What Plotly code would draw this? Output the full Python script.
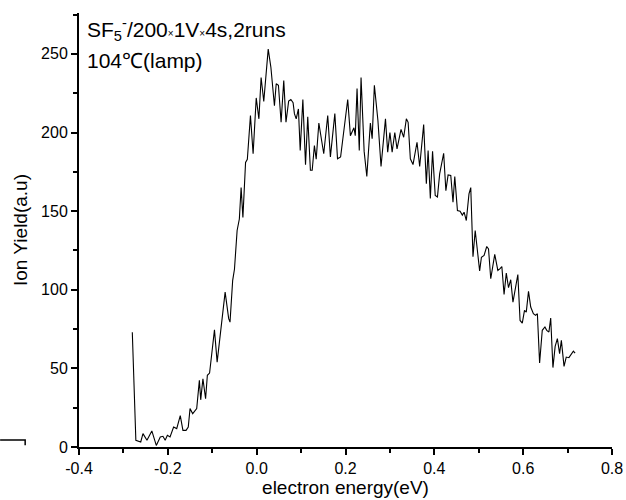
import plotly.graph_objects as go

# electron energy (eV)
energy = [
    -0.280, -0.272, -0.261, -0.256, -0.247, -0.236, -0.226, -0.217, -0.211, -0.206,
    -0.201, -0.195, -0.187, -0.180, -0.172, -0.166, -0.159, -0.154, -0.150, -0.144,
    -0.135, -0.129, -0.126, -0.121, -0.115, -0.111, -0.106, -0.095, -0.089, -0.071,
    -0.063, -0.060, -0.054, -0.050, -0.044, -0.039, -0.035, -0.031, -0.025, -0.021,
    -0.014, -0.008, -0.001, 0.005, 0.010, 0.016, 0.026, 0.032, 0.040, 0.044,
    0.049, 0.055, 0.061, 0.066, 0.072, 0.077, 0.082, 0.085, 0.089, 0.094,
    0.098, 0.104, 0.110, 0.115, 0.121, 0.125, 0.130, 0.134, 0.140, 0.151,
    0.160, 0.166, 0.176, 0.182, 0.189, 0.198, 0.205, 0.211, 0.219, 0.222,
    0.226, 0.231, 0.235, 0.242, 0.248, 0.256, 0.260, 0.265, 0.273, 0.280,
    0.290, 0.295, 0.300, 0.305, 0.311, 0.316, 0.325, 0.331, 0.337, 0.341,
    0.346, 0.352, 0.361, 0.367, 0.376, 0.382, 0.386, 0.391, 0.396, 0.402,
    0.407, 0.412, 0.421, 0.426, 0.431, 0.437, 0.442, 0.446, 0.452, 0.458,
    0.463, 0.467, 0.472, 0.478, 0.482, 0.487, 0.492, 0.502, 0.506, 0.512,
    0.518, 0.522, 0.527, 0.536, 0.543, 0.548, 0.552, 0.557, 0.562, 0.567,
    0.572, 0.577, 0.588, 0.593, 0.598, 0.603, 0.607, 0.612, 0.617, 0.623,
    0.628, 0.632, 0.637, 0.643, 0.649, 0.653, 0.658, 0.662, 0.667, 0.672,
    0.677, 0.682, 0.686, 0.692, 0.697, 0.703, 0.713, 0.717,
]

# ion yield (a.u)
ion_yield = [
    73, 4.3, 3.2, 8.5, 4.3, 10.2, 1, 6.4, 6.8, 4.3,
    7.4, 6.4, 12.7, 11.7, 20, 10.6, 10.6, 12.7, 24.4, 21.2,
    24.4, 42.4, 30, 43.4, 30.7, 45.6, 47, 74.5, 54, 98.5,
    81.6, 79.4, 106, 113, 137.7, 145, 165, 146, 181, 183,
    210.8, 186.5, 222, 208.7, 235, 219.7, 253, 241.5, 217, 231,
    230, 206.5, 233, 206.5, 220, 221, 219, 212, 208.7, 215,
    188.5, 221, 179.5, 210, 176, 176, 191.7, 183, 206, 186.5,
    210.8, 184.5, 212, 183.3, 184.5, 205, 221, 198, 203, 198,
    228, 188.5, 235, 188, 172, 206, 196, 230, 207.6, 178.4,
    208.7, 187.5, 200, 187.5, 200, 189.6, 202, 197, 208.7, 206.5,
    183.3, 179.6, 193.8, 178.4, 205, 167.4, 188.5, 158, 188, 160,
    159, 173.7, 186.8, 163, 173, 172.7, 155.7, 172, 150.4, 150,
    147.5, 149.3, 144, 161, 165, 121, 137.7, 112, 120.7, 121.8,
    127.5, 126, 107, 122.5, 112.3, 113.4, 114.8, 97, 110.6, 101.3,
    106.4, 92.1, 109.7, 80.5, 78.8, 86.9, 85.8, 99, 89, 84.8,
    83.7, 84.8, 53.4, 74.2, 76.3, 74.2, 73.1, 82, 50.5, 64,
    68.9, 59.4, 67.8, 51.3, 57.2, 56.8, 61, 59.7,
]

x_tick_vals = [-0.4, -0.2, 0.0, 0.2, 0.4, 0.6, 0.8]
x_tick_text = ["-0.4", "-0.2", "0.0", "0.2", "0.4", "0.6", "0.8"]
y_tick_vals = [0, 50, 100, 150, 200, 250]

FONT = "Liberation Sans, Arial, sans-serif"

fig = go.Figure()
fig.add_trace(go.Scatter(
    x=energy, y=ion_yield, mode="lines",
    line=dict(color="black", width=1.1),
    showlegend=False, hoverinfo="skip",
))

axis_common = dict(
    showline=True, linecolor="black", linewidth=2,
    ticks="outside", ticklen=6, tickwidth=1.5, tickcolor="black",
    showgrid=False, zeroline=False, mirror=False,
    tickfont=dict(family=FONT, size=16, color="black"),
)

fig.update_xaxes(
    range=[-0.4, 0.8], tickvals=x_tick_vals, ticktext=x_tick_text,
    minor=dict(ticks="outside", ticklen=4, tickwidth=1.5, tickcolor="black", dtick=0.1),
    title=dict(text="electron energy(eV)", font=dict(family=FONT, size=19, color="black"), standoff=4),
    **axis_common,
)
fig.update_yaxes(
    range=[0, 276], tickvals=y_tick_vals,
    minor=dict(ticks="outside", ticklen=4, tickwidth=1.5, tickcolor="black", dtick=25, tick0=0),
    title=dict(text="Ion Yield(a.u)", font=dict(family=FONT, size=19, color="black"), standoff=8),
    **axis_common,
)

small = '<span style="font-size:10px">×</span>'
fig.add_annotation(
    xref="paper", yref="paper", x=0.011, y=0.962, xanchor="left", yanchor="middle",
    text="SF<sub>5</sub><sup>-</sup>/200" + small + "1V" + small + "4s,2runs",
    showarrow=False, font=dict(family=FONT, size=21, color="black"),
)
fig.add_annotation(
    xref="paper", yref="paper", x=0.011, y=0.89, xanchor="left", yanchor="middle",
    text="104℃(lamp)",
    showarrow=False, font=dict(family=FONT, size=21, color="black"),
)

# small bracket mark at the lower left of the figure
fig.add_shape(
    type="path", xref="paper", yref="paper",
    path="M -0.148 0.016 L -0.101 0.016 L -0.101 0.004",
    line=dict(color="black", width=1.5),
)

fig.update_layout(
    width=626, height=500,
    margin=dict(l=79, r=14, t=13, b=53, autoexpand=False),
    paper_bgcolor="white", plot_bgcolor="white",
    font=dict(family=FONT, color="black"),
)

fig.write_html(
    "out.html",
    config={"displayModeBar": False},
    post_script="document.body.style.margin='0';document.body.style.padding='0';",
)
